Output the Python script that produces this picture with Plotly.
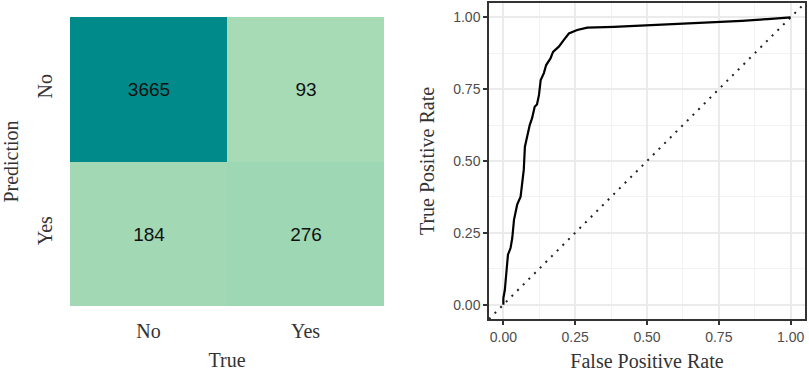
import plotly.graph_objects as go

# Confusion matrix data
true_labels = ["No", "Yes"]
pred_labels = ["No", "Yes"]
counts = [[3665, 93],
          [184, 276]]

# ROC curve data
fpr = [0.0, 0.0, 0.005, 0.011, 0.016, 0.025, 0.031, 0.037, 0.043, 0.048, 0.06, 0.066,
       0.071, 0.075, 0.083, 0.092, 0.1, 0.109, 0.117, 0.124, 0.13, 0.141, 0.149, 0.164,
       0.173, 0.193, 0.21, 0.228, 0.257, 0.292, 0.384, 0.5, 0.627, 0.75, 0.83, 0.92, 1.0]
tpr = [0.0, 0.023, 0.05, 0.11, 0.174, 0.197, 0.232, 0.295, 0.32, 0.348, 0.376, 0.435,
       0.469, 0.55, 0.585, 0.626, 0.649, 0.689, 0.697, 0.73, 0.782, 0.806, 0.834, 0.857,
       0.88, 0.898, 0.921, 0.944, 0.956, 0.964, 0.967, 0.972, 0.978, 0.983, 0.988, 0.994, 1.0]
diag = [-0.05, 1.05]

ticks = [0, 0.25, 0.5, 0.75, 1.0]
tick_text = ["0.00", "0.25", "0.50", "0.75", "1.00"]

serif = "Liberation Serif"
sans = "Liberation Sans"

fig = go.Figure()

fig.add_trace(go.Heatmap(
    x=true_labels, y=pred_labels, z=counts,
    colorscale=[[0, "#A6DBB5"], [1, "#008B8A"]],
    zmin=93, zmax=3665, showscale=False,
    texttemplate="%{z}", textfont=dict(family=sans, size=19, color="#111111"),
    xaxis="x", yaxis="y", hoverinfo="skip",
))

fig.add_trace(go.Scatter(
    x=diag, y=diag, mode="lines",
    line=dict(color="#222222", width=2, dash="2px,6px"),
    xaxis="x2", yaxis="y2", showlegend=False,
))
fig.add_trace(go.Scatter(
    x=fpr, y=tpr, mode="lines",
    line=dict(color="black", width=2.2),
    xaxis="x2", yaxis="y2", showlegend=False,
))

fig.update_layout(
    width=809, height=372,
    margin=dict(l=0, r=0, t=0, b=0),
    paper_bgcolor="white", plot_bgcolor="white",
    showlegend=False,
    xaxis=dict(
        domain=[70 / 809, 384 / 809], anchor="y", automargin=False,
        showgrid=False, zeroline=False, showline=False,
        ticks="outside", ticklen=7, tickcolor="rgba(0,0,0,0)",
        tickfont=dict(family=serif, size=20, color="#333333"),
        title=dict(text="True", font=dict(family=serif, size=20, color="#333333"), standoff=11),
    ),
    yaxis=dict(
        domain=[1 - 306 / 372, 1 - 17 / 372], anchor="x", automargin=False,
        autorange="reversed",
        showgrid=False, zeroline=False, showline=False,
        ticks="outside", ticklen=9, tickcolor="rgba(0,0,0,0)",
        tickangle=-90,
        tickfont=dict(family=serif, size=20, color="#333333"),
        title=dict(text="Prediction", font=dict(family=serif, size=20, color="#333333"), standoff=13),
    ),
    xaxis2=dict(
        domain=[489 / 809, 805 / 809], anchor="y2", automargin=False,
        range=[-0.05, 1.05], tickvals=ticks, ticktext=tick_text,
        showgrid=True, gridcolor="#EBEBEB", gridwidth=1.5,
        minor=dict(tickvals=[0.125, 0.375, 0.625, 0.875], showgrid=True, gridcolor="#F3F3F3", gridwidth=1, ticks=""),
        zeroline=False, showline=True, linecolor="#333333", linewidth=1.5, mirror=True,
        ticks="outside", ticklen=4, tickcolor="#333333", tickwidth=1.5,
        tickfont=dict(family=sans, size=14, color="#4D4D4D"),
        title=dict(text="False Positive Rate", font=dict(family=serif, size=20, color="#333333"), standoff=12),
    ),
    yaxis2=dict(
        domain=[1 - 319 / 372, 1 - 3 / 372], anchor="x2", automargin=False,
        range=[-0.05, 1.05], tickvals=ticks, ticktext=tick_text,
        showgrid=True, gridcolor="#EBEBEB", gridwidth=1.5,
        minor=dict(tickvals=[0.125, 0.375, 0.625, 0.875], showgrid=True, gridcolor="#F3F3F3", gridwidth=1, ticks=""),
        zeroline=False, showline=True, linecolor="#333333", linewidth=1.5, mirror=True,
        ticks="outside", ticklen=4, tickcolor="#333333", tickwidth=1.5,
        tickfont=dict(family=sans, size=14, color="#4D4D4D"),
        title=dict(text="True Positive Rate", font=dict(family=serif, size=20, color="#333333"), standoff=13),
    ),
)

fig.write_html("out.html", config={"displayModeBar": False},
               post_script="document.body.style.margin='0';document.body.style.padding='0';")
